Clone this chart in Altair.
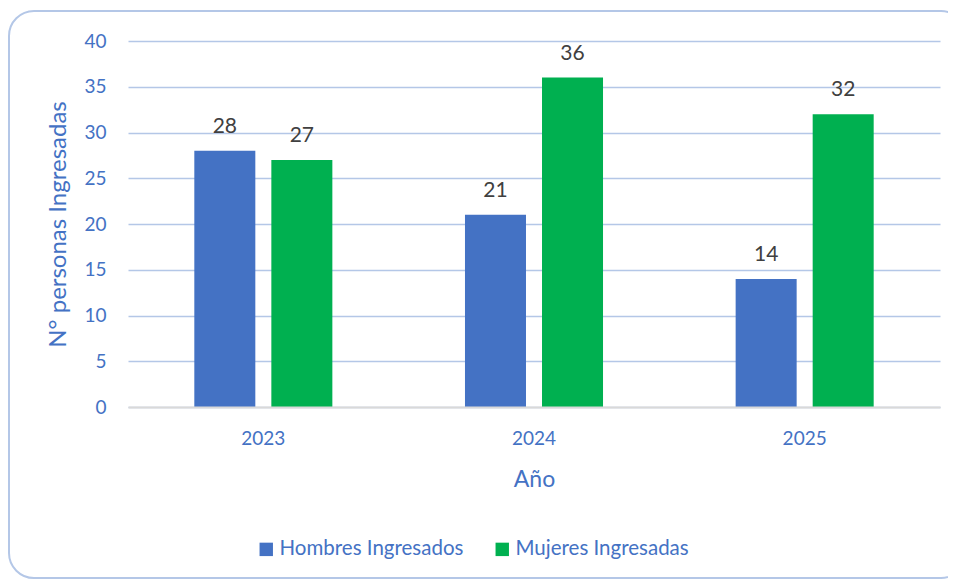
import altair as alt
import pandas as pd

years = ["2023", "2024", "2025"]
series = ["Hombres Ingresados", "Mujeres Ingresadas"]
hombres = [28, 21, 14]
mujeres = [27, 36, 32]
colors = ["#4472C4", "#00B050"]

rows = []
for i, y in enumerate(years):
    rows.append({"Año": y, "Serie": series[0], "Valor": hombres[i]})
    rows.append({"Año": y, "Serie": series[1], "Valor": mujeres[i]})
df = pd.DataFrame(rows)

FONT = "Lato"
BLUE_TXT = "#4472C4"

x_enc = alt.X("Año:N", sort=years,
              scale=alt.Scale(paddingInner=0.49, paddingOuter=0.245),
              axis=alt.Axis(title="Año", labelAngle=0, ticks=False,
                            labelPadding=22, titlePadding=20, titleFontSize=23,
                            domainColor="#D9D9D9", domainWidth=2, zindex=1))
xo_enc = alt.XOffset("Serie:N", sort=series,
                     scale=alt.Scale(paddingInner=0.208, paddingOuter=0))
y_enc = alt.Y("Valor:Q", scale=alt.Scale(domain=[0, 40]),
              axis=alt.Axis(title="N° personas Ingresadas", values=list(range(0, 41, 5)),
                            ticks=False, domain=False, labelPadding=22, titleFontSize=24,
                            titlePadding=13, gridColor="#B4C7E7", gridWidth=1.5))

bars = alt.Chart(df).mark_bar().encode(
    x=x_enc, xOffset=xo_enc, y=y_enc,
    color=alt.Color("Serie:N", sort=series,
                    scale=alt.Scale(domain=series, range=colors),
                    legend=alt.Legend(title=None, orient="none", legendX=128, legendY=498,
                                      direction="horizontal", symbolType="square",
                                      symbolSize=180, columnPadding=28, labelLimit=0,
                                      labelOffset=3,
                                      labelFontSize=20.5, labelColor=BLUE_TXT,
                                      labelFont=FONT, symbolStrokeWidth=0)),
)

labels = alt.Chart(df).mark_text(baseline="bottom", dy=-14, fontSize=21,
                                 color="#404040", font=FONT).encode(
    x=x_enc, xOffset=xo_enc, y=y_enc, text="Valor:Q")

border = alt.Chart(pd.DataFrame({"b": [0]})).mark_rect(
    fillOpacity=0, stroke="#B4C7E7", strokeWidth=2, cornerRadius=25).encode(
    x=alt.value(-119), x2=alt.value(838), y=alt.value(-30), y2=alt.value(537))

chart = alt.layer(border, bars, labels).properties(
    width=812, height=366,
    background="white",
    autosize=alt.AutoSizeParams(type="none"),
    padding={"left": 120, "top": 33, "right": 8, "bottom": 172},
).configure_view(stroke=None).configure_axis(
    labelFont=FONT, titleFont=FONT, labelColor=BLUE_TXT, titleColor=BLUE_TXT,
    labelFontSize=19, titleFontSize=22, titleFontWeight="normal",
)

chart.save("out.html", embed_options={"renderer": "svg", "actions": False})
